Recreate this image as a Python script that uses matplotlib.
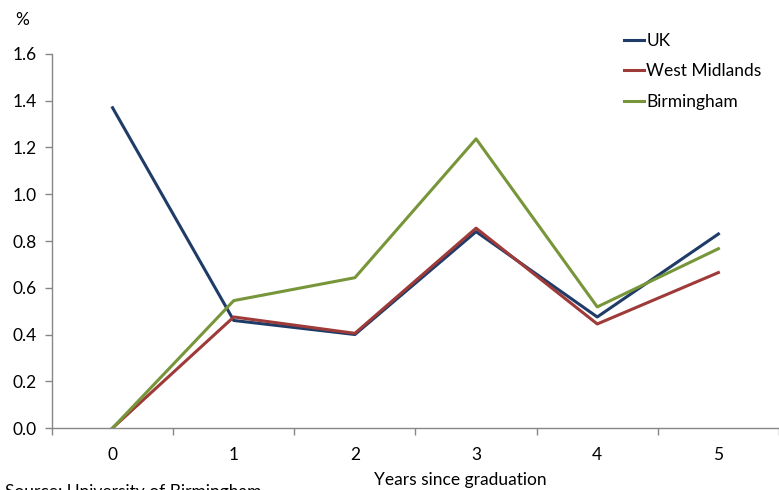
import numpy as np
import matplotlib.pyplot as plt

plt.rcParams['font.family'] = ['Lato', 'DejaVu Sans']

years = [0, 1, 2, 3, 4, 5]
uk = [1.37, 0.46, 0.40, 0.84, 0.475, 0.83]
west_midlands = [0.0, 0.475, 0.405, 0.855, 0.445, 0.665]
birmingham = [0.0, 0.545, 0.643, 1.237, 0.518, 0.767]

fs = 12.5

fig = plt.figure(figsize=(7.79, 4.90), dpi=100)
ax = fig.add_axes([52/779, 62/490, 727/779, 374/490])

x = np.arange(len(years))
ax.plot(x, uk, color="#1F3B68", linewidth=2.2, label="UK")
ax.plot(x, west_midlands, color="#9E3A38", linewidth=2.2, label="West Midlands")
ax.plot(x, birmingham, color="#77963A", linewidth=2.2, label="Birmingham")

ax.set_xlim(-0.5, -0.5 + 727/122)
ax.set_ylim(0, 1.6)
ax.set_yticks(np.arange(0, 1.61, 0.2))
ax.set_yticklabels([f"{v:.1f}" for v in np.arange(0, 1.61, 0.2)], fontsize=fs)

# category axis: ticks between categories, labels at centres
ax.set_xticks(np.arange(-0.5, 6, 1.0))
ax.set_xticklabels([])
ax.set_xticks(x, minor=True)
ax.set_xticklabels([str(y) for y in years], minor=True, fontsize=fs)
ax.tick_params(axis="x", which="minor", length=0, pad=14)
ax.tick_params(axis="x", which="major", length=5, color="#868686", width=1)
ax.tick_params(axis="y", length=5, color="#868686", width=1, pad=6)

for s in ["top", "right"]:
    ax.spines[s].set_visible(False)
for s in ["left", "bottom"]:
    ax.spines[s].set_color("#868686")
    ax.spines[s].set_linewidth(1)

fig.text(460/779, 1 - 480/490, "Years since graduation", fontsize=fs,
         ha="center", va="center")
fig.text(22/779, 1 - 20/490, "%", fontsize=fs, ha="center", va="center")
fig.text(5/779, 1 - 484/490, "Source: University of Birmingham", fontsize=fs,
         ha="left", va="top")

ax.legend(loc="upper left", bbox_to_anchor=(608/779, 1 - 17/490),
          bbox_transform=fig.transFigure, frameon=False, fontsize=fs,
          handlelength=1.2, handletextpad=0.1, labelspacing=0.85)

fig.savefig("out.png", dpi=100)
